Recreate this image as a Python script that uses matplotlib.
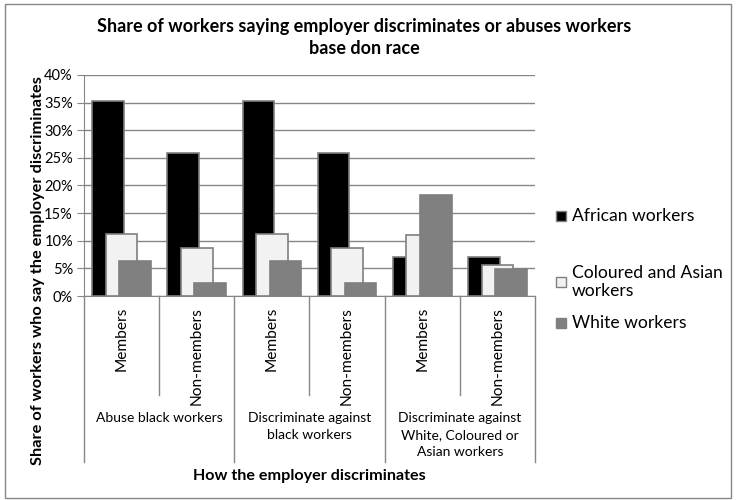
import numpy as np
import matplotlib.pyplot as plt
from matplotlib.patches import Rectangle

plt.rcParams['font.family'] = ['Lato', 'DejaVu Sans']

# data
subcats = ['Members', 'Non-members'] * 3
groups = ['Abuse black workers',
          'Discriminate against\nblack workers',
          'Discriminate against\nWhite, Coloured or\nAsian workers']
series = ['African workers', 'Coloured and Asian\nworkers', 'White workers']
african = [35.3, 25.8, 35.3, 25.8, 7.0, 7.1]
coloured = [11.3, 8.7, 11.3, 8.7, 11.1, 5.7]
white = [6.3, 2.4, 6.3, 2.4, 18.2, 4.9]
colors = ['#000000', '#f2f2f2', '#808080']
yticks = [0, 5, 10, 15, 20, 25, 30, 35, 40]

fig = plt.figure(figsize=(7.37, 5.0), dpi=100)
ax = fig.add_axes([84/737, 1-296/500, (535-84)/737, (296-75)/500])

x = np.arange(len(subcats))
width = 0.42
step = 0.18
for i, (vals, col) in enumerate(zip([african, coloured, white], colors)):
    ax.bar(x + (i-1)*step, vals, width, color=col, edgecolor='#7f7f7f',
           linewidth=1.2, zorder=2+i)

ax.set_xlim(-0.5, len(subcats)-0.5)
ax.set_ylim(0, 40)
ax.set_yticks(yticks)
ax.set_yticklabels(['%d%%' % t for t in yticks], fontsize=10.5)
ax.yaxis.grid(True, color='#868686', linewidth=1)
ax.set_axisbelow(True)
ax.tick_params(axis='y', length=5, color='#868686', pad=3)
ax.set_xticks([])
for s in ['top', 'right']:
    ax.spines[s].set_visible(False)
for s in ['left', 'bottom']:
    ax.spines[s].set_color('#868686')

# multi-level category axis
trans = ax.get_xaxis_transform()
for b in np.arange(-0.5, len(subcats), 1):
    low = -0.751 if (b + 0.5) % 2 == 0 else -0.448
    ax.plot([b, b], [0, low], transform=trans, color='#868686', lw=1,
            clip_on=False)
for xi, lab in zip(x, subcats):
    ax.text(xi, -0.05, lab, transform=trans, rotation=90, ha='center',
            va='top', fontsize=11.2)
for gi, g in enumerate(groups):
    ax.text(2*gi + 0.5, -0.527, g, transform=trans, ha='center', va='top',
            fontsize=10, linespacing=1.5)

fig.text(364/737, 1-37.5/500, 'Share of workers saying employer discriminates or abuses workers\nbase don race',
         ha='center', va='center', fontsize=13, fontweight='bold', linespacing=1.3)
fig.text(38/737, 1-271/500, 'Share of workers who say the employer discriminates',
         rotation=90, ha='center', va='center', fontsize=11.8, fontweight='bold')
fig.text(309/737, 1-476/500, 'How the employer discriminates',
         ha='center', va='center', fontsize=11.6, fontweight='bold')

# legend
leg_y = [216, 282, 323]
for lab, col, yy in zip(series, colors, leg_y):
    fig.patches.append(Rectangle((556/737, 1-(yy+5)/500), 10/737, 10/500,
                                 transform=fig.transFigure, facecolor=col,
                                 edgecolor='#7f7f7f', linewidth=1))
    fig.text(572/737, 1-yy/500, lab, ha='left', va='center', fontsize=12.6,
             linespacing=1.2)

fig.patches.append(Rectangle((5/737, 2/500), 726/737, 494/500,
                             transform=fig.transFigure, fill=False,
                             edgecolor='#868686', linewidth=1))

fig.savefig('out.png', dpi=100)
